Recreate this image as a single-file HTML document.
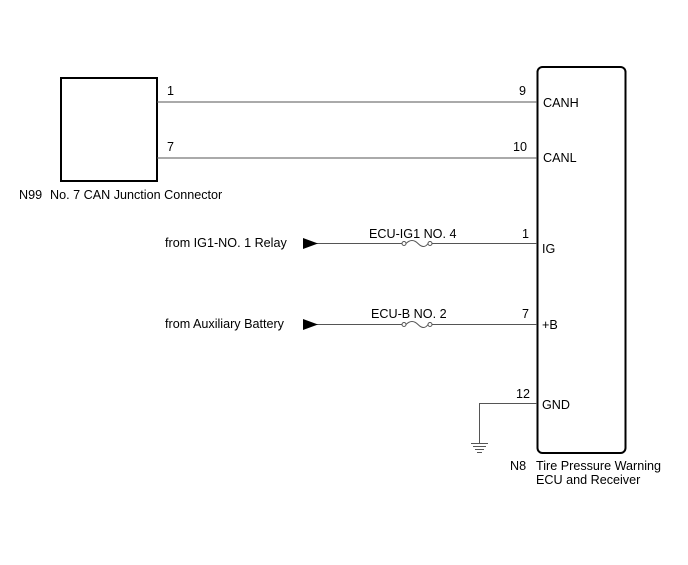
<!DOCTYPE html>
<html><head><style>body{margin:0;background:#fff}svg text{font-family:"Liberation Sans",Arial,sans-serif;font-size:12.6px;fill:#000}</style></head><body>
<svg width="688" height="560" xmlns="http://www.w3.org/2000/svg">
<rect x="61" y="78" width="96" height="103" fill="none" stroke="#000" stroke-width="2"/>
<rect x="537.5" y="67" width="88" height="386" rx="5" fill="none" stroke="#000" stroke-width="2"/>
<g stroke="#555" stroke-width="1" fill="none">
<line x1="157" y1="102" x2="537" y2="102"/>
<line x1="157" y1="158" x2="537" y2="158"/>
<line x1="305" y1="243.5" x2="402" y2="243.5"/>
<line x1="432" y1="243.5" x2="537" y2="243.5"/>
<line x1="305" y1="324.5" x2="402" y2="324.5"/>
<line x1="432" y1="324.5" x2="537" y2="324.5"/>
<path d="M406 243.5 q6 -6 12 0 q6 6 10 0"/>
<path d="M406 324.5 q6 -6 12 0 q6 6 10 0"/>
<circle cx="404" cy="243.5" r="2" fill="#fff"/><circle cx="430" cy="243.5" r="2" fill="#fff"/>
<circle cx="404" cy="324.5" r="2" fill="#fff"/><circle cx="430" cy="324.5" r="2" fill="#fff"/>
<polyline points="537,403.5 479.5,403.5 479.5,443"/>
<line x1="471" y1="443.5" x2="488" y2="443.5"/>
<line x1="473" y1="446.5" x2="486" y2="446.5"/>
<line x1="475" y1="449.5" x2="484" y2="449.5"/>
<line x1="477" y1="452.5" x2="482" y2="452.5"/>
</g>
<polygon points="303,238 318,243.5 303,249" fill="#000"/>
<polygon points="303,319 318,324.5 303,330" fill="#000"/>
<text x="167" y="95">1</text>
<text x="167" y="151">7</text>
<text x="19" y="199">N99</text>
<text x="50" y="199">No. 7 CAN Junction Connector</text>
<text x="519" y="95">9</text>
<text x="513" y="151">10</text>
<text x="543" y="107">CANH</text>
<text x="543" y="162">CANL</text>
<text x="165" y="247">from IG1-NO. 1 Relay</text>
<text x="165" y="328">from Auxiliary Battery</text>
<text x="369" y="238">ECU-IG1 NO. 4</text>
<text x="371" y="318">ECU-B NO. 2</text>
<text x="522" y="238">1</text>
<text x="522" y="318">7</text>
<text x="542" y="253">IG</text>
<text x="542" y="329">+B</text>
<text x="516" y="398">12</text>
<text x="542" y="409">GND</text>
<text x="510" y="470">N8</text>
<text x="536" y="470">Tire Pressure Warning</text>
<text x="536" y="484">ECU and Receiver</text>
</svg>
</body></html>
